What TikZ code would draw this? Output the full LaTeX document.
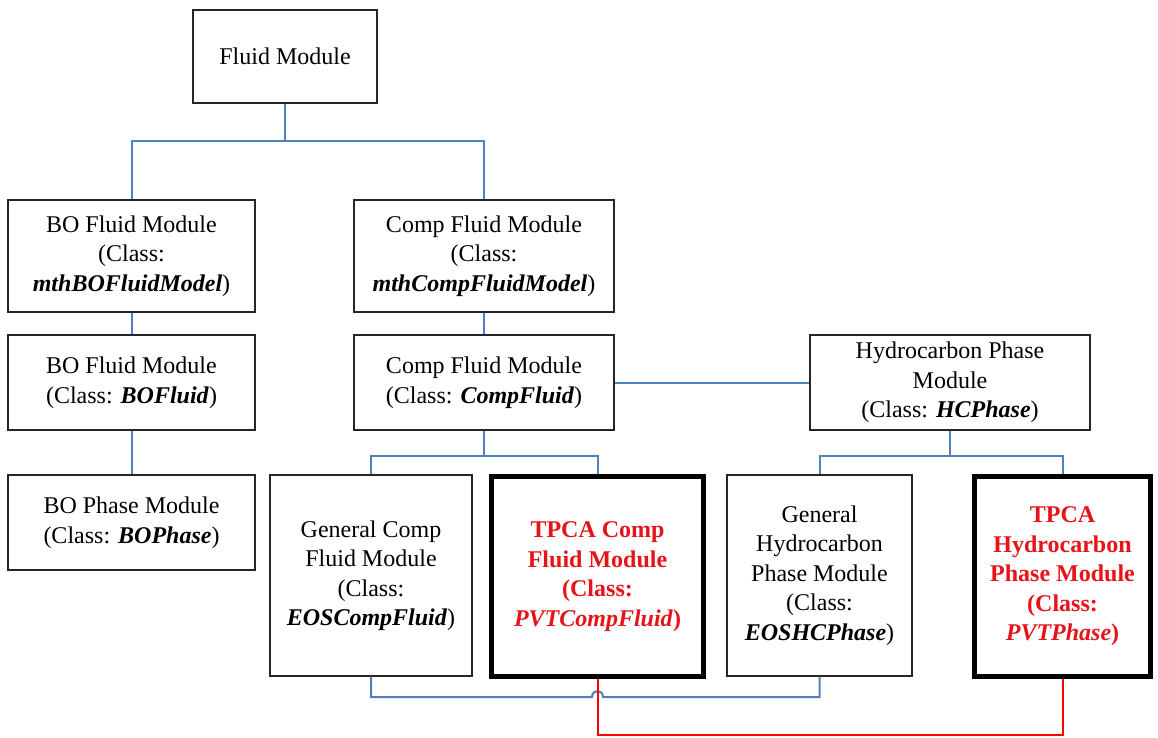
\documentclass[tikz,border=0pt]{standalone}
\usepackage{fontspec}
\setmainfont{Liberation Serif}
\usetikzlibrary{calc}
\definecolor{linkblue}{RGB}{79,129,189}
\definecolor{tpcared}{RGB}{230,20,25}
\begin{document}
\begin{tikzpicture}[x=1pt,y=-1pt,
  box/.style={draw=black!85,line width=1.3pt,fill=white,align=center,inner sep=0pt,
    font=\fontsize{24}{29.5}\selectfont},
  tpca/.style={box,draw=black,line width=4.5pt,text=tpcared,
    font=\fontsize{24}{29.5}\selectfont\bfseries},
  link/.style={draw=linkblue,line width=2pt},
  redlink/.style={draw=red,line width=2pt}]
\useasboundingbox (0,0) rectangle (1158,737);

% module boxes
\node[box,minimum width=184pt,minimum height=93pt] (fm) at (285,56.5) {Fluid Module};
\node[box,minimum width=247pt,minimum height=112pt] (bom) at (131.5,256)
  {BO Fluid Module\\(Class:\\\textbf{\textit{mthBOFluidModel}})};
\node[box,minimum width=260pt,minimum height=112pt] (cfm) at (484,256)
  {Comp Fluid Module\\(Class:\\\textbf{\textit{mthCompFluidModel}})};
\node[box,minimum width=247pt,minimum height=95pt] (bof) at (131.5,382.5)
  {BO Fluid Module\\(Class: \textbf{\textit{BOFluid}})};
\node[box,minimum width=260pt,minimum height=95pt] (cf) at (484,382.5)
  {Comp Fluid Module\\(Class: \textbf{\textit{CompFluid}})};
\node[box,minimum width=280pt,minimum height=95pt] (hc) at (950,382.5)
  {Hydrocarbon Phase\\Module\\(Class: \textbf{\textit{HCPhase}})};
\node[box,minimum width=247pt,minimum height=95pt] (bop) at (131.5,522.5)
  {BO Phase Module\\(Class: \textbf{\textit{BOPhase}})};
\node[box,minimum width=202pt,minimum height=201pt] (gc) at (371,575.5)
  {General Comp\\Fluid Module\\(Class:\\\textbf{\textit{EOSCompFluid}})};
\node[tpca,minimum width=212pt,minimum height=200pt] (tc) at (597.5,576.5)
  {TPCA Comp\\Fluid Module\\(Class:\\\textit{PVTCompFluid})};
\node[box,minimum width=185pt,minimum height=201pt] (gh) at (819.5,575.5)
  {General\\Hydrocarbon\\Phase Module\\(Class:\\\textbf{\textit{EOSHCPhase}})};
\node[tpca,minimum width=176pt,minimum height=200pt] (th) at (1062.5,576.5)
  {TPCA\\Hydrocarbon\\Phase Module\\(Class:\\\textit{PVTPhase})};

% tree connectors
\path (fm.south) ++(0,37) coordinate (fmj);
\draw[link] (fm.south) -- (fmj) -| (bom.north);
\draw[link] (fmj) -| (cfm.north);
\draw[link] (bom.south) -- (bof.north);
\draw[link] (bof.south) -- (bop.north);
\draw[link] (cfm.south) -- (cf.north);
\draw[link] (cf.east) -- (hc.west);
\path (cf.south) ++(0,25) coordinate (cfj);
\draw[link] (cf.south) -- (cfj) -| (gc.north);
\draw[link] (cfj) -| (tc.north);
\path (hc.south) ++(0,25) coordinate (hcj);
\draw[link] (hc.south) -- (hcj) -| (gh.north);
\draw[link] (hcj) -| (th.north);

% lower links: blue bridge hops over the red one
\coordinate (jl) at (592,697);
\coordinate (jr) at (603,697);
\draw[link] (gc.south) |- (jl) .. controls +(0,-8) and +(0,-8) .. (jr) -| (gh.south);
\path (tc.south) ++(0,56) coordinate (rj);
\draw[redlink] (tc.south) -- (rj) -| (th.south);
\end{tikzpicture}
\end{document}
